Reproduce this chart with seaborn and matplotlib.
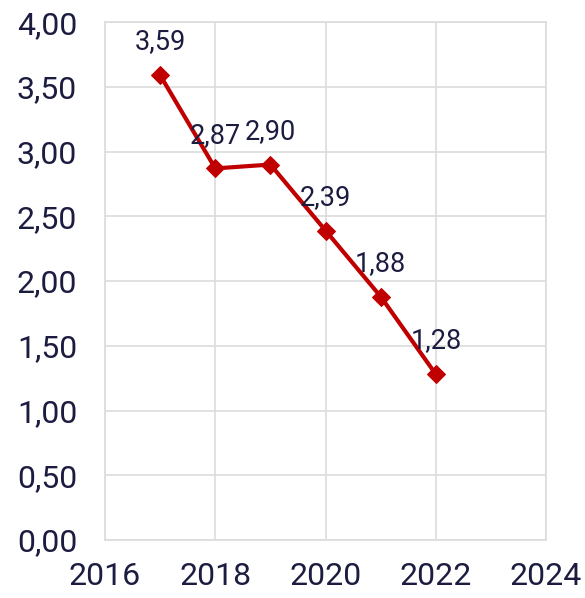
import pandas as pd
import seaborn as sns
import matplotlib.pyplot as plt
from matplotlib.ticker import FuncFormatter, MultipleLocator

years = [2017, 2018, 2019, 2020, 2021, 2022]
values = [3.59, 2.87, 2.90, 2.39, 1.88, 1.28]

df = pd.DataFrame({"year": years, "value": values})

sns.set_theme(style="whitegrid")
plt.rcParams["font.family"] = ["Roboto", "DejaVu Sans"]
text_color = "#1c1c40"

fig = plt.figure(figsize=(5.85, 5.98), dpi=100)
ax = fig.add_axes([0.1795, 0.097, 0.754, 0.866])

sns.lineplot(data=df, x="year", y="value", ax=ax, color="#c00000",
             linewidth=3.0, marker="D", markersize=9.5,
             markeredgecolor="#c00000")

for x, y in zip(years, values):
    ax.annotate(f"{y:.2f}".replace(".", ","), (x, y), textcoords="offset points",
                xytext=(0, 24), ha="center", va="center",
                fontsize=19.5, color=text_color)

ax.set_xlim(2016, 2024)
ax.set_ylim(0, 4)
ax.xaxis.set_major_locator(MultipleLocator(2))
ax.yaxis.set_major_locator(MultipleLocator(0.5))
ax.yaxis.set_major_formatter(FuncFormatter(lambda v, p: f"{v:.2f}".replace(".", ",")))
ax.set_xlabel("")
ax.set_ylabel("")
ax.tick_params(labelsize=23, colors=text_color, length=0)
ax.tick_params(axis="y", pad=20)
ax.tick_params(axis="x", pad=16)
ax.grid(True, color="#dcdcdc", linewidth=1.2)
for s in ax.spines.values():
    s.set_color("#dcdcdc")
    s.set_linewidth(1.2)

fig.savefig("out.png", dpi=100)
